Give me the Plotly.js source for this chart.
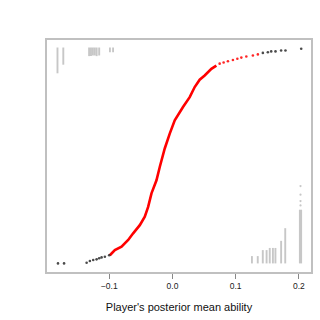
<!DOCTYPE html>
<html><head><meta charset="utf-8">
<script src="https://cdn.plot.ly/plotly-3.0.1.min.js"></script>
<style>html,body{margin:0;padding:0;background:#fff}#chart{width:320px;height:320px}</style>
</head><body><div id="chart"></div>
<script>
// Empirical CDF of posterior mean ability (dense red part)
const redX = [-0.0991,-0.0912,-0.0806,-0.0701,-0.0622,-0.0517,-0.0438,-0.0385,-0.0332,-0.0253,-0.0201,-0.0149,-0.0122,-0.0043,0.0036,0.0167,0.0273,0.0352,0.0431,0.0510,0.0616,0.0695];
const redY = [0.038,0.062,0.078,0.109,0.140,0.178,0.217,0.263,0.326,0.387,0.449,0.511,0.535,0.604,0.666,0.728,0.774,0.821,0.855,0.875,0.906,0.921];
// sparse red points in upper tail
const redSparseX = [0.0747,0.0810,0.0878,0.0957,0.1027,0.1090,0.1169,0.1273,0.1352];
const redSparseY = [0.930,0.935,0.941,0.947,0.953,0.958,0.963,0.968,0.973];
// black / grey points at the tails
const blackX = [-0.1812,-0.1716,-0.1359,-0.1307,-0.1254,-0.1201,-0.1160,-0.1122,-0.1070,-0.1002,0.1431,0.1510,0.1563,0.1631,0.1720,0.1789,0.2038];
const blackY = [0.0,0.0,0.003,0.011,0.016,0.019,0.024,0.028,0.031,0.038,0.980,0.983,0.987,0.987,0.991,0.991,0.999];
// grey stacks hanging from the top (left)
const topStackX = [-0.1820,-0.1728,-0.1320,-0.1290,-0.1260,-0.1230,-0.1200,-0.1160,-0.0990,-0.0940];
const topStackLen = [0.12,0.08,0.040,0.040,0.037,0.037,0.040,0.037,0.022,0.022];
// grey stacks rising from the bottom (right)
const botStackX = [0.1258,0.1350,0.1430,0.1490,0.1540,0.1590,0.1630,0.1720,0.1785,0.2027];
const botStackLen = [0.034,0.034,0.062,0.062,0.072,0.072,0.072,0.105,0.164,0.25];
const botStackWidth = [0.003,0.003,0.003,0.003,0.003,0.003,0.003,0.003,0.003,0.005];
const botSparseX = [0.2027,0.2027,0.2027,0.2027];
const botSparseY = [0.27,0.29,0.32,0.36];
const xTicks = [-0.1,0.0,0.1,0.2];
const xTickText = ['\u22120.1','0.0','0.1','0.2'];

const grey = 'rgba(185,185,185,0.8)';
const traces = [
  {type:'bar', x: topStackX, y: topStackLen.map(v=>-v), base: 1.005, width: 0.0030,
   marker:{color:grey, line:{width:0}}, hoverinfo:'skip'},
  {type:'bar', x: botStackX, y: botStackLen, base: 0.0, width: botStackWidth,
   marker:{color:grey, line:{width:0}}, hoverinfo:'skip'},
  {type:'scatter', mode:'markers', x: botSparseX, y: botSparseY,
   marker:{color:grey, size:2.2}},
  {type:'scatter', mode:'lines', x: redX, y: redY, line:{color:'#ff0000', width:2.6}},
  {type:'scatter', mode:'markers', x: redSparseX, y: redSparseY, marker:{color:'rgba(255,0,0,0.85)', size:2.6}},
  {type:'scatter', mode:'markers', x: blackX, y: blackY, marker:{color:'rgba(30,30,30,0.8)', size:2.6}}
];
const layout = {
  width:320, height:320, showlegend:false, barmode:'overlay',
  paper_bgcolor:'#fff', plot_bgcolor:'#fff',
  margin:{l:47, r:8.5, t:39.5, b:48},
  font:{family:'Liberation Sans, Arial, sans-serif', color:'#222'},
  xaxis:{range:[-0.1986,0.2193], tickvals:xTicks, ticktext:xTickText, ticks:'outside', ticklen:5,
    tickcolor:'#888', tickwidth:1, showgrid:false, zeroline:false, showline:true, mirror:true,
    linecolor:'#c0c0c0', linewidth:2, tickfont:{size:8.5, color:'#222'},
    title:{text:"Player's posterior mean ability", font:{size:11, color:'#111'}, standoff:13}},
  yaxis:{range:[-0.04,1.04], showticklabels:false, ticks:'', showgrid:false, zeroline:false,
    showline:true, mirror:true, linecolor:'#c0c0c0', linewidth:2}
};
Plotly.newPlot('chart', traces, layout, {staticPlot:true, displayModeBar:false});
</script></body></html>
